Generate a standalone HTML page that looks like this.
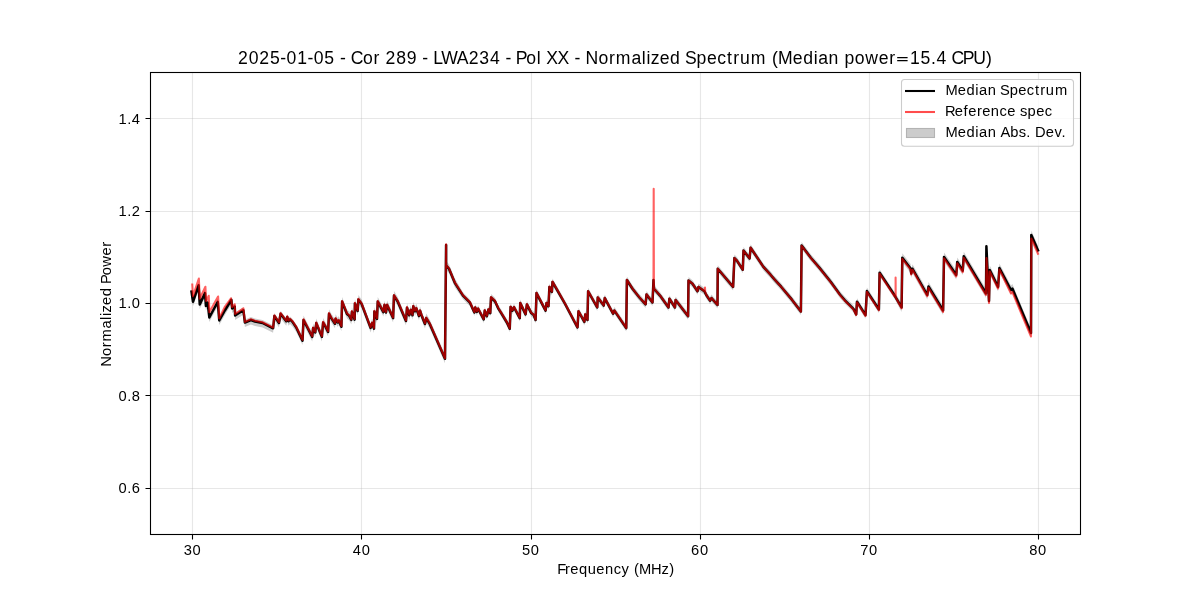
<!DOCTYPE html><html><head><meta charset="utf-8"><style>html,body{margin:0;padding:0;background:#fff;}svg{display:block;will-change:transform;}text{font-family:"Liberation Sans",sans-serif;fill:#000;}</style></head><body>
<svg width="1200" height="600" viewBox="0 0 1200 600">
<rect x="0" y="0" width="1200" height="600" fill="#fff"/>
<path d="M192.5 72V534" stroke="#b0b0b0" stroke-opacity="0.3" stroke-width="1.1" fill="none"/>
<path d="M361.5 72V534" stroke="#b0b0b0" stroke-opacity="0.3" stroke-width="1.1" fill="none"/>
<path d="M531.5 72V534" stroke="#b0b0b0" stroke-opacity="0.3" stroke-width="1.1" fill="none"/>
<path d="M700.5 72V534" stroke="#b0b0b0" stroke-opacity="0.3" stroke-width="1.1" fill="none"/>
<path d="M869.5 72V534" stroke="#b0b0b0" stroke-opacity="0.3" stroke-width="1.1" fill="none"/>
<path d="M1038.5 72V534" stroke="#b0b0b0" stroke-opacity="0.3" stroke-width="1.1" fill="none"/>
<path d="M150 488.5H1080" stroke="#b0b0b0" stroke-opacity="0.3" stroke-width="1.1" fill="none"/>
<path d="M150 395.5H1080" stroke="#b0b0b0" stroke-opacity="0.3" stroke-width="1.1" fill="none"/>
<path d="M150 303.5H1080" stroke="#b0b0b0" stroke-opacity="0.3" stroke-width="1.1" fill="none"/>
<path d="M150 211.5H1080" stroke="#b0b0b0" stroke-opacity="0.3" stroke-width="1.1" fill="none"/>
<path d="M150 118.5H1080" stroke="#b0b0b0" stroke-opacity="0.3" stroke-width="1.1" fill="none"/>
<polygon points="191.50,288.60 193.00,298.75 198.60,282.25 199.75,301.40 205.00,290.10 205.90,302.90 207.60,299.50 209.35,314.50 217.75,298.75 219.25,317.50 225.00,307.25 231.40,296.75 232.10,305.40 234.75,303.50 235.10,312.50 243.40,307.25 244.90,319.60 250.90,317.00 255.00,318.50 262.50,320.00 273.10,325.30 274.40,313.00 279.00,320.00 280.60,310.75 286.25,318.25 287.25,313.90 288.50,318.25 290.00,316.40 292.50,318.90 296.25,324.50 302.50,336.10 303.50,315.50 312.25,332.40 313.10,323.60 315.25,328.00 316.25,318.60 321.90,332.40 323.10,318.00 325.60,322.40 328.10,327.40 329.00,309.25 331.25,313.60 335.00,319.25 335.60,314.25 337.75,318.00 338.75,316.10 339.50,317.75 341.40,322.25 342.10,297.10 347.00,309.50 349.25,311.40 351.35,315.50 351.90,307.25 354.65,315.10 354.90,299.00 357.65,306.50 358.40,294.90 361.60,299.40 370.60,323.40 372.10,318.50 374.00,324.10 374.40,306.90 377.00,314.40 377.75,297.10 383.40,307.60 384.50,300.50 386.00,308.00 387.10,300.50 393.10,313.60 394.00,291.10 397.70,297.00 406.00,316.50 407.00,303.20 409.30,310.80 410.70,305.50 412.50,310.80 413.30,301.80 415.00,306.80 416.30,303.80 419.00,311.50 420.00,306.20 421.30,310.20 425.00,319.50 426.25,313.60 430.00,319.90 445.00,354.25 446.10,240.40 446.10,260.80 449.00,264.30 454.80,278.30 463.00,292.20 470.00,299.20 474.40,309.00 475.25,304.00 476.90,308.40 478.10,305.25 483.75,315.90 484.75,307.10 486.90,312.75 488.50,305.90 490.25,309.60 491.00,294.00 495.00,297.75 498.10,304.60 501.25,309.60 506.90,319.00 509.75,325.25 510.60,303.40 512.50,307.10 514.00,303.75 519.75,314.60 520.25,299.60 525.60,310.90 526.90,300.90 531.25,309.60 533.75,311.50 535.60,316.50 536.50,289.60 545.60,307.10 546.50,299.60 548.50,302.75 549.40,283.40 551.90,288.40 552.50,278.40 557.50,287.10 565.00,300.25 577.50,324.00 578.50,307.75 584.40,318.40 585.25,310.90 587.50,316.50 588.10,287.75 597.25,304.00 597.75,294.00 603.75,302.10 604.75,294.60 613.10,310.25 614.40,307.10 626.25,324.60 626.90,276.50 632.50,285.25 639.40,294.00 645.60,300.90 646.50,290.90 652.50,299.00 653.50,276.50 654.00,285.25 660.00,292.10 668.50,304.00 669.40,295.25 675.00,304.00 675.60,296.50 688.10,312.75 688.50,277.10 692.50,280.25 697.50,287.75 698.50,283.40 704.40,287.75 706.25,291.50 710.00,297.10 711.50,294.60 717.50,301.50 717.75,265.25 733.10,283.40 734.40,254.60 736.90,257.10 742.80,266.20 743.50,247.10 749.60,254.90 750.60,244.20 763.40,263.40 770.50,271.20 774.00,275.40 781.10,283.20 791.70,295.90 800.90,308.00 801.60,242.10 810.80,254.20 819.30,264.10 830.65,278.20 839.90,291.00 844.90,296.80 853.40,305.30 856.20,310.90 857.00,298.20 865.50,311.70 866.90,287.60 878.90,306.00 879.60,269.20 894.50,291.80 901.60,302.90 902.30,253.30 910.60,264.00 911.25,269.00 912.50,264.25 927.30,290.50 928.50,282.00 943.10,306.00 944.00,252.40 956.25,270.50 957.25,257.40 962.75,266.10 963.75,251.75 986.00,289.00 986.40,241.75 989.00,296.50 989.75,265.50 998.10,282.50 999.40,263.50 1011.00,285.50 1012.40,284.10 1031.00,328.50 1031.30,230.50 1038.00,245.80 1038.00,254.80 1031.30,239.50 1031.00,337.50 1012.40,293.10 1011.00,294.50 999.40,272.50 998.10,291.50 989.75,274.50 989.00,305.50 986.40,250.75 986.00,298.00 963.75,260.75 962.75,275.10 957.25,266.40 956.25,279.50 944.00,261.40 943.10,315.00 928.50,291.00 927.30,299.50 912.50,273.25 911.25,278.00 910.60,273.00 902.30,262.30 901.60,311.90 894.50,298.80 879.60,276.20 878.90,313.00 866.90,294.60 865.50,318.70 857.00,305.20 856.20,317.90 853.40,312.30 844.90,303.80 839.90,298.00 830.65,285.20 819.30,271.10 810.80,261.20 801.60,249.10 800.90,315.00 791.70,302.90 781.10,290.20 774.00,282.40 770.50,278.20 763.40,270.40 750.60,251.20 749.60,261.90 743.50,254.10 742.80,273.20 736.90,264.10 734.40,261.60 733.10,290.40 717.75,272.25 717.50,308.50 711.50,301.60 710.00,304.10 706.25,298.50 704.40,294.75 698.50,290.40 697.50,294.75 692.50,287.25 688.50,284.10 688.10,319.75 675.60,303.50 675.00,311.00 669.40,302.25 668.50,311.00 660.00,299.10 654.00,292.25 653.50,283.50 652.50,306.00 646.50,297.90 645.60,307.90 639.40,301.00 632.50,292.25 626.90,283.50 626.25,331.60 614.40,314.10 613.10,317.25 604.75,301.60 603.75,309.10 597.75,301.00 597.25,311.00 588.10,294.75 587.50,323.50 585.25,317.90 584.40,325.40 578.50,314.75 577.50,331.00 565.00,307.25 557.50,294.10 552.50,285.40 551.90,295.40 549.40,290.40 548.50,309.75 546.50,306.60 545.60,314.10 536.50,296.60 535.60,323.50 533.75,318.50 531.25,316.60 526.90,307.90 525.60,317.90 520.25,306.60 519.75,321.60 514.00,310.75 512.50,314.10 510.60,310.40 509.75,332.25 506.90,326.00 501.25,316.60 498.10,311.60 495.00,304.75 491.00,301.00 490.25,316.60 488.50,312.90 486.90,319.75 484.75,314.10 483.75,322.90 478.10,312.25 476.90,315.40 475.25,311.00 474.40,316.00 470.00,306.20 463.00,299.20 454.80,287.30 449.00,273.30 446.10,269.80 446.10,249.40 445.00,363.25 430.00,328.90 426.25,322.60 425.00,328.50 421.30,319.20 420.00,315.20 419.00,320.50 416.30,312.80 415.00,315.80 413.30,310.80 412.50,319.80 410.70,314.50 409.30,319.80 407.00,312.20 406.00,325.50 397.70,306.00 394.00,300.10 393.10,322.60 387.10,309.50 386.00,317.00 384.50,309.50 383.40,316.60 377.75,306.10 377.00,323.40 374.40,315.90 374.00,333.10 372.10,327.50 370.60,332.40 361.60,308.40 358.40,303.90 357.65,315.50 354.90,308.00 354.65,324.10 351.90,316.25 351.35,324.50 349.25,320.40 347.00,318.50 342.10,306.10 341.40,331.25 339.50,326.75 338.75,325.10 337.75,327.00 335.60,323.25 335.00,328.25 331.25,322.60 329.00,318.25 328.10,336.40 325.60,331.40 323.10,327.00 321.90,341.40 316.25,327.60 315.25,337.00 313.10,332.60 312.25,341.40 303.50,324.50 302.50,345.10 296.25,332.00 292.50,326.40 290.00,323.90 288.50,325.75 287.25,321.40 286.25,325.75 280.60,318.25 279.00,327.50 274.40,320.50 273.10,332.80 262.50,327.50 255.00,326.00 250.90,324.50 244.90,327.10 243.40,314.75 235.10,320.00 234.75,311.00 232.10,312.90 231.40,304.25 225.00,314.75 219.25,325.00 217.75,306.25 209.35,322.00 207.60,307.00 205.90,310.40 205.00,297.60 199.75,308.90 198.60,289.75 193.00,306.25 191.50,296.10" fill="#000" fill-opacity="0.2" stroke="none"/>
<polyline points="191.50,291.60 193.00,301.75 198.60,285.25 199.75,304.40 205.00,293.10 205.90,305.90 207.60,302.50 209.35,317.50 217.75,301.75 219.25,320.50 225.00,310.25 231.40,299.75 232.10,308.40 234.75,306.50 235.10,315.50 243.40,310.25 244.90,322.60 250.90,320.00 255.00,321.50 262.50,323.00 273.10,328.30 274.40,316.00 279.00,323.00 280.60,313.75 286.25,321.25 287.25,316.90 288.50,321.25 290.00,319.40 292.50,321.90 296.25,327.50 302.50,340.60 303.50,320.00 312.25,336.90 313.10,328.10 315.25,332.50 316.25,323.10 321.90,336.90 323.10,322.50 325.60,326.90 328.10,331.90 329.00,313.75 331.25,318.10 335.00,323.75 335.60,318.75 337.75,322.50 338.75,320.60 339.50,322.25 341.40,326.75 342.10,301.60 347.00,314.00 349.25,315.90 351.35,320.00 351.90,311.75 354.65,319.60 354.90,303.50 357.65,311.00 358.40,299.40 361.60,303.90 370.60,327.90 372.10,323.00 374.00,328.60 374.40,311.40 377.00,318.90 377.75,301.60 383.40,312.10 384.50,305.00 386.00,312.50 387.10,305.00 393.10,318.10 394.00,295.60 397.70,301.50 406.00,321.00 407.00,307.70 409.30,315.30 410.70,310.00 412.50,315.30 413.30,306.30 415.00,311.30 416.30,308.30 419.00,316.00 420.00,310.70 421.30,314.70 425.00,324.00 426.25,318.10 430.00,324.40 445.00,358.75 446.10,244.90 446.10,265.30 449.00,268.80 454.80,282.80 463.00,295.70 470.00,302.70 474.40,312.50 475.25,307.50 476.90,311.90 478.10,308.75 483.75,319.40 484.75,310.60 486.90,316.25 488.50,309.40 490.25,313.10 491.00,297.50 495.00,301.25 498.10,308.10 501.25,313.10 506.90,322.50 509.75,328.75 510.60,306.90 512.50,310.60 514.00,307.25 519.75,318.10 520.25,303.10 525.60,314.40 526.90,304.40 531.25,313.10 533.75,315.00 535.60,320.00 536.50,293.10 545.60,310.60 546.50,303.10 548.50,306.25 549.40,286.90 551.90,291.90 552.50,281.90 557.50,290.60 565.00,303.75 577.50,327.50 578.50,311.25 584.40,321.90 585.25,314.40 587.50,320.00 588.10,291.25 597.25,307.50 597.75,297.50 603.75,305.60 604.75,298.10 613.10,313.75 614.40,310.60 626.25,328.10 626.90,280.00 632.50,288.75 639.40,297.50 645.60,304.40 646.50,294.40 652.50,302.50 653.50,280.00 654.00,288.75 660.00,295.60 668.50,307.50 669.40,298.75 675.00,307.50 675.60,300.00 688.10,316.25 688.50,280.60 692.50,283.75 697.50,291.25 698.50,286.90 704.40,291.25 706.25,295.00 710.00,300.60 711.50,298.10 717.50,305.00 717.75,268.75 733.10,286.90 734.40,258.10 736.90,260.60 742.80,269.70 743.50,250.60 749.60,258.40 750.60,247.70 763.40,266.90 770.50,274.70 774.00,278.90 781.10,286.70 791.70,299.40 800.90,311.50 801.60,245.60 810.80,257.70 819.30,267.60 830.65,281.70 839.90,294.50 844.90,300.30 853.40,308.80 856.20,314.40 857.00,301.70 865.50,315.20 866.90,291.10 878.90,309.50 879.60,272.70 894.50,295.30 901.60,307.40 902.30,257.80 910.60,268.50 911.25,273.50 912.50,268.75 927.30,295.00 928.50,286.50 943.10,310.50 944.00,256.90 956.25,275.00 957.25,261.90 962.75,270.60 963.75,256.25 986.00,293.50 986.40,246.25 989.00,301.00 989.75,270.00 998.10,287.00 999.40,268.00 1011.00,290.00 1012.40,288.60 1031.00,333.00 1031.30,235.00 1038.00,250.30" fill="none" stroke="#000" stroke-width="2.5" stroke-linejoin="round" stroke-linecap="square"/>
<polyline points="192.25,284.50 193.00,296.10 198.85,278.50 199.75,298.75 205.40,286.75 206.10,301.00 208.75,295.75 209.35,312.25 218.10,296.50 219.25,318.25 225.00,306.50 231.00,298.25 232.10,306.90 234.75,304.25 235.10,314.00 243.40,308.40 244.90,321.90 250.90,319.30 255.00,320.80 262.50,322.30 273.10,327.60 274.40,315.30 279.00,322.30 280.60,313.05 286.25,320.55 287.25,316.20 288.50,320.55 290.00,318.70 292.50,321.20 296.25,326.80 302.50,339.90 303.50,319.31 312.25,336.22 313.10,327.42 315.25,331.82 316.25,322.42 321.90,336.23 323.10,321.83 325.60,326.24 328.10,331.24 329.00,313.09 331.25,317.45 335.00,323.10 335.60,318.10 337.75,321.86 338.75,319.96 339.50,321.61 341.40,326.11 342.10,300.96 347.00,313.37 349.25,315.27 351.35,319.37 351.90,311.13 354.65,318.98 354.90,302.88 357.65,310.38 358.40,298.79 361.60,303.29 370.60,327.30 372.10,322.41 374.00,328.01 374.40,310.81 377.00,318.31 377.75,301.01 383.40,311.52 384.50,304.42 386.00,311.93 387.10,304.43 393.10,317.54 394.00,295.04 397.70,300.94 406.00,320.45 407.00,307.16 409.30,314.76 410.70,309.46 412.50,314.76 413.30,305.77 415.00,310.77 416.30,307.77 419.00,315.47 420.00,310.18 421.30,314.18 425.00,323.48 426.25,317.58 430.00,323.89 445.00,358.26 446.10,244.41 446.10,264.81 449.00,268.32 454.80,282.33 463.00,295.24 470.00,302.25 474.40,312.05 475.25,307.06 476.90,311.46 478.10,308.31 483.75,318.97 484.75,310.17 486.90,315.82 488.50,308.97 490.25,312.68 491.00,297.08 495.00,300.83 498.10,307.69 501.25,312.69 506.90,322.10 509.75,328.36 510.60,306.51 512.50,310.21 514.00,306.86 519.75,317.72 520.25,302.72 525.60,314.03 526.90,304.03 531.25,312.74 533.75,314.64 535.60,319.64 536.50,292.74 545.60,310.26 546.50,302.76 548.50,305.91 549.40,286.56 551.90,291.57 552.50,281.57 557.50,290.28 565.00,303.44 577.50,327.20 578.50,310.96 584.40,321.61 585.25,314.12 587.50,319.72 588.10,290.97 597.25,307.23 597.75,297.23 603.75,305.34 604.75,297.84 613.10,313.51 614.40,310.36 626.25,327.88 626.90,279.78 632.50,288.53 639.40,297.29 645.60,304.20 646.50,294.21 652.50,302.31 653.50,280.00 653.70,188.70 653.90,280.00 654.00,288.57 660.00,295.43 668.50,307.34 669.40,298.59 675.00,307.35 675.60,299.85 688.10,316.12 688.50,280.47 692.50,283.62 697.50,291.13 698.50,286.78 704.40,291.14 705.00,287.50 705.20,292.00 706.25,294.89 710.00,300.50 711.50,298.00 717.50,304.91 717.75,268.66 733.10,286.83 734.40,258.03 736.90,260.54 742.80,269.65 743.50,250.55 749.60,258.36 750.60,247.66 763.40,266.88 770.50,274.69 774.00,278.89 781.10,286.71 791.70,299.49 800.90,311.67 801.60,245.77 810.80,257.95 819.30,267.91 830.65,282.11 839.90,294.98 844.90,300.82 853.40,309.39 856.20,315.01 857.00,302.32 865.50,315.88 866.90,291.80 878.90,310.29 879.60,273.50 894.50,296.22 895.60,297.00 895.60,277.60 895.70,297.50 901.60,308.37 902.30,258.78 910.60,269.54 911.25,274.55 912.50,269.81 927.30,296.18 928.50,287.69 943.10,312.00 944.00,258.40 956.25,276.50 957.25,263.40 962.75,272.10 963.75,257.75 986.00,295.00 986.50,258.00 989.00,303.00 989.75,271.50 998.10,288.50 999.40,269.50 1011.00,293.50 1012.40,292.10 1031.00,336.50 1031.30,238.50 1038.00,253.80" fill="none" stroke="#f00" stroke-opacity="0.62" stroke-width="2.08" stroke-linejoin="round" stroke-linecap="square"/>
<rect x="150.5" y="72.5" width="930" height="462" fill="none" stroke="#000" stroke-width="1.1"/>
<path d="M192.5 534.5v5M361.5 534.5v5M531.5 534.5v5M700.5 534.5v5M869.5 534.5v5M1038.5 534.5v5M150.5 488.5h-5M150.5 395.5h-5M150.5 303.5h-5M150.5 211.5h-5M150.5 118.5h-5" stroke="#000" stroke-width="1.1" fill="none"/>
<text x="183.77 192.60" y="555.00" font-size="14.7">30</text>
<text x="352.86 361.69" y="555.00" font-size="14.7">40</text>
<text x="521.95 530.79" y="555.00" font-size="14.7">50</text>
<text x="691.04 699.88" y="555.00" font-size="14.7">60</text>
<text x="860.13 868.97" y="555.00" font-size="14.7">70</text>
<text x="1029.22 1038.06" y="555.00" font-size="14.7">80</text>
<text x="118.52 127.19 131.77" y="493.00" font-size="14.7">0.6</text>
<text x="118.52 127.19 131.77" y="401.00" font-size="14.7">0.8</text>
<text x="118.52 127.19 131.77" y="308.00" font-size="14.7">1.0</text>
<text x="118.52 127.19 131.77" y="216.00" font-size="14.7">1.2</text>
<text x="118.52 127.19 131.77" y="124.00" font-size="14.7">1.4</text>
<text x="557.15 565.03 570.21 578.89 587.70 596.37 605.04 613.68 621.60 629.55 634.07 639.09 651.12 661.62 669.20" y="573.70" font-size="14.7">Frequency (MHz)</text>
<text x="-366.69 -356.03 -347.29 -341.58 -328.53 -319.89 -316.03 -312.50 -304.99 -296.31 -287.65 -284.12 -275.37 -266.66 -255.49 -246.72" y="110.50" font-size="14.7" transform="rotate(-90)">Normalized Power</text>
<text x="238.10 248.71 259.31 269.91 280.19 286.53 297.14 307.41 313.75 324.36 334.76 339.93 346.07 350.63 363.00 373.49 380.05 385.56 396.16 406.76 417.16 422.33 428.48 433.32 441.27 456.73 468.71 479.31 489.91 500.31 505.48 511.63 515.87 526.37 536.72 541.20 546.13 557.55 569.33 574.50 580.64 585.61 598.41 608.90 615.75 631.41 641.77 646.40 650.64 659.65 670.07 680.46 684.97 696.53 706.94 717.14 726.95 733.16 739.90 750.86 766.52 771.93 777.97 792.72 803.14 813.69 818.17 828.56 838.94 844.43 854.81 865.27 878.67 889.19 897.39 909.92 920.52 930.92 936.42 946.82 951.38 962.71 973.35 986.12" y="64.00" font-size="17.6">2025-01-05 - Cor 289 - LWA234 - Pol XX - Normalized Spectrum (Median power 15.4 CPU)</text>
<path d="M897.2 57.7H907.6M897.2 60.7H907.6" stroke="#000" stroke-width="1.3" fill="none"/>
<rect x="901.5" y="79.5" width="172" height="66.7" rx="3" fill="#fff" fill-opacity="0.8" stroke="#cccccc" stroke-width="1.1"/>
<path d="M905 91H935" stroke="#000" stroke-width="2.08"/>
<path d="M905 112H935" stroke="#f00" stroke-opacity="0.7" stroke-width="2.08"/>
<rect x="906.5" y="128.5" width="28" height="9" fill="#ccc" stroke="#b3b3b3" stroke-width="1.1"/>
<text x="945.47 957.77 966.45 975.24 978.97 987.63 996.28 1000.04 1009.67 1018.35 1026.85 1035.03 1040.20 1045.81 1054.95" y="95.00" font-size="14.7">Median Spectrum</text>
<text x="945.12 954.81 963.57 968.24 977.01 982.19 990.86 999.49 1007.17 1015.70 1019.89 1027.50 1036.18 1044.69" y="115.80" font-size="14.7">Reference spec</text>
<text x="945.47 957.77 966.45 975.24 978.97 987.63 996.28 1000.38 1010.35 1018.79 1026.25 1030.67 1034.95 1045.79 1054.59 1061.46" y="136.80" font-size="14.7">Median Abs. Dev.</text>
</svg></body></html>
